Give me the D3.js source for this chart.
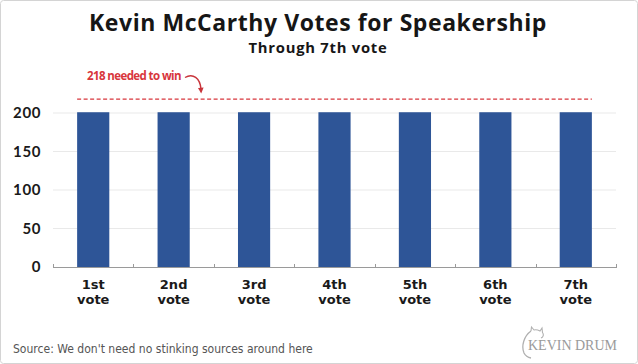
<!DOCTYPE html>
<html>
<head>
<meta charset="utf-8">
<script src="https://cdn.jsdelivr.net/npm/d3@7"></script>
<style>
  html, body { margin: 0; padding: 0; background: #fff; }
  svg { display: block; }
</style>
</head>
<body>
<svg id="chart" width="638" height="364"></svg>
<script>
// ---- Data ----
const categories = ["1st vote", "2nd vote", "3rd vote", "4th vote", "5th vote", "6th vote", "7th vote"];
const votes = [201, 201, 201, 201, 201, 201, 201];
const yTicks = [0, 50, 100, 150, 200];
const threshold = 218;
const thresholdLabel = "218 needed to win";
const titleText = "Kevin McCarthy Votes for Speakership";
const subtitleText = "Through 7th vote";
const sourceText = "Source: We don't need no stinking sources around here";
const logoText = "KEVIN DRUM";

// ---- Setup ----
const W = 638, H = 364;
const svg = d3.select("#chart");
const headFont = "'Open Sans', 'Noto Sans', sans-serif";

function fitWidth(sel, target) {
  const node = sel.node();
  const fs = parseFloat(sel.attr("font-size"));
  const w = node.getComputedTextLength();
  if (w > 0) sel.attr("font-size", (fs * target / w).toFixed(2));
  return sel;
}
function fitSpacing(sel, target) {
  const node = sel.node();
  const w = node.getComputedTextLength();
  const n = sel.text().length;
  if (w > 0 && n > 1) sel.attr("letter-spacing", ((target - w) / n).toFixed(3));
  return sel;
}

// frame
svg.append("rect")
  .attr("x", 0.5).attr("y", 0.5).attr("width", W - 1).attr("height", H - 1)
  .attr("rx", 3).attr("fill", "#fff").attr("stroke", "#d4d4d4");

const x = d3.scaleBand().domain(categories).range([53, 616]).paddingInner(0.6).paddingOuter(0.3);
const y = d3.scaleLinear().domain([0, 200]).range([267, 113]);

// gridlines
svg.append("g").selectAll("line").data(yTicks.filter(d => d > 0)).join("line")
  .attr("x1", 53).attr("x2", 616)
  .attr("y1", d => y(d)).attr("y2", d => y(d))
  .attr("stroke", "#e9e9e9").attr("stroke-width", 1);

// y labels
svg.append("g").selectAll("text").data(yTicks).join("text")
  .attr("x", 41).attr("y", d => y(d) + 5.3)
  .attr("text-anchor", "end")
  .attr("font-family", "Lato, 'Open Sans', sans-serif").attr("font-weight", 700)
  .attr("font-size", 15).attr("letter-spacing", 0.6)
  .attr("fill", "#1a1a1a")
  .text(d => d);

// bars
svg.append("g").selectAll("rect").data(categories).join("rect")
  .attr("x", d => x(d))
  .attr("width", x.bandwidth())
  .attr("y", (d, i) => y(votes[i]))
  .attr("height", (d, i) => y(0) - y(votes[i]))
  .attr("fill", "#2e5597");

// x axis line and ticks
const axisG = svg.append("g");
axisG.append("line")
  .attr("x1", 53).attr("x2", 616).attr("y1", y(0) + 0.5).attr("y2", y(0) + 0.5)
  .attr("stroke", "#9a9a9a").attr("stroke-width", 1);
const bounds = categories.map(c => x(c) - x.step() * 0.3).concat([616]);
axisG.selectAll("line.tick").data(bounds).join("line").attr("class", "tick")
  .attr("x1", d => Math.round(d) + 0.5).attr("x2", d => Math.round(d) + 0.5)
  .attr("y1", y(0) - 3).attr("y2", y(0) + 1)
  .attr("stroke", "#9a9a9a").attr("stroke-width", 1);

// x labels (two lines)
const xl = svg.append("g").selectAll("text").data(categories).join("text")
  .attr("text-anchor", "middle")
  .attr("font-family", "'DejaVu Sans', Verdana, sans-serif").attr("font-weight", 700)
  .attr("font-size", 13).attr("fill", "#1a1a1a");
xl.each(function(d) {
  const parts = d.split(" ");
  const t = d3.select(this);
  const cx = x(d) + x.bandwidth() / 2;
  t.append("tspan").attr("x", cx).attr("y", 288.5).text(parts[0]);
  t.append("tspan").attr("x", cx).attr("y", 304).text(parts[1]);
});

// threshold dashed line
const firstX = x(categories[0]);
const lastX = x(categories[categories.length - 1]) + x.bandwidth();
svg.append("line")
  .attr("x1", firstX).attr("x2", lastX)
  .attr("y1", y(threshold)).attr("y2", y(threshold))
  .attr("stroke", "#d8363c").attr("stroke-width", 1.3)
  .attr("stroke-dasharray", "4,2.5");

// threshold label
const tl = svg.append("text")
  .attr("x", 87).attr("y", 80)
  .attr("font-family", headFont).attr("font-weight", 700)
  .attr("font-size", 11.5).attr("fill", "#d8363c")
  .text(thresholdLabel);
fitSpacing(tl, 94);

// arrow
svg.append("path")
  .attr("d", "M185,77.5 C193,73 200,78 201,89")
  .attr("fill", "none").attr("stroke", "#c8343a").attr("stroke-width", 1.4);
svg.append("path")
  .attr("d", "M198,88 L201.2,93.5 L203.6,87.6 Z")
  .attr("fill", "#c8343a");

// title
const title = svg.append("text")
  .attr("x", 318).attr("y", 30.5)
  .attr("text-anchor", "middle")
  .attr("font-family", headFont).attr("font-weight", 700)
  .attr("font-size", 23).attr("fill", "#161616")
  .text(titleText);
fitSpacing(title, 458);

const sub = svg.append("text")
  .attr("x", 318).attr("y", 53)
  .attr("text-anchor", "middle")
  .attr("font-family", headFont).attr("font-weight", 700)
  .attr("font-size", 14.8).attr("fill", "#161616")
  .text(subtitleText);
fitSpacing(sub, 139);

// source
const src = svg.append("text")
  .attr("x", 13).attr("y", 353)
  .attr("font-family", "'DejaVu Sans Condensed', 'DejaVu Sans', Verdana, sans-serif")
  .attr("font-size", 12).attr("fill", "#555")
  .text(sourceText);
fitWidth(src, 300);

// logo
const logo = svg.append("text")
  .attr("x", 528).attr("y", 350)
  .attr("font-family", "'Liberation Serif', 'Times New Roman', serif")
  .attr("font-size", 14.5).attr("fill", "#9a9a9a")
  .text(logoText);
fitWidth(logo, 89);
svg.append("path")
  .attr("d", "M531,331 C524,336 521,346 524,353 C525.5,356 528,357.5 531,358")
  .attr("fill", "none").attr("stroke", "#b0b0b0").attr("stroke-width", 1.3);
svg.append("path")
  .attr("d", "M531,331 L531.5,327 L534,330 C536,329.5 538,330 540,331 L542,328 L542.5,332.5 C544,334.5 543.5,337 541,338")
  .attr("fill", "none").attr("stroke", "#b0b0b0").attr("stroke-width", 1.1);
</script>
</body>
</html>
